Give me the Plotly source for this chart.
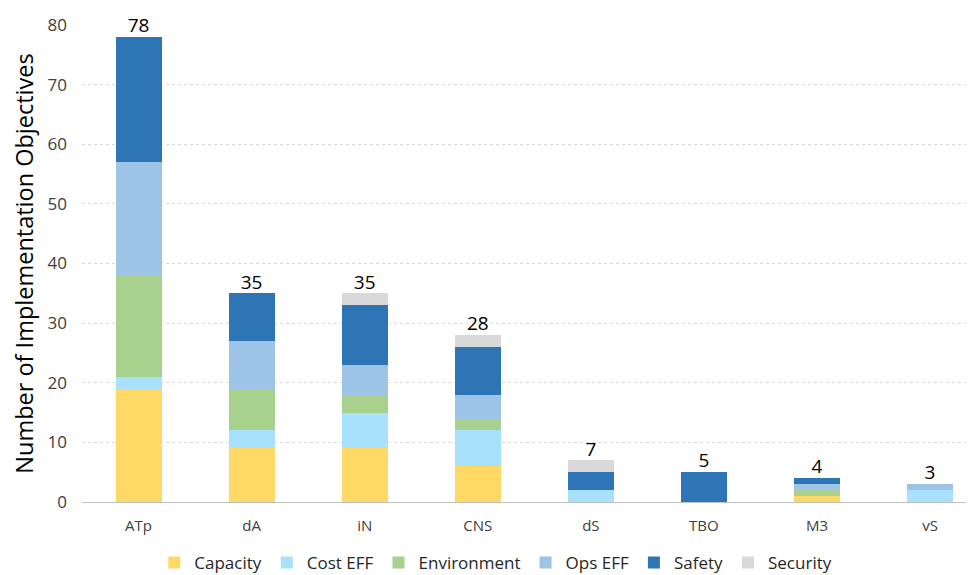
import plotly.graph_objects as go

categories = ['ATp', 'dA', 'iN', 'CNS', 'dS', 'TBO', 'M3', 'vS']

capacity = [19, 9, 9, 6, 0, 0, 1, 0]
cost_eff = [2, 3, 6, 6, 2, 0, 0, 2]
environment = [17, 7, 3, 2, 0, 0, 1, 0]
ops_eff = [19, 8, 5, 4, 0, 0, 1, 1]
safety = [21, 8, 10, 8, 3, 5, 1, 0]
security = [0, 0, 2, 2, 2, 0, 0, 0]

series_names = ['Capacity', 'Cost EFF', 'Environment', 'Ops EFF', 'Safety', 'Security']
series_values = [capacity, cost_eff, environment, ops_eff, safety, security]
colors = ['#FFD966', '#A8E1FC', '#A9D18E', '#9DC3E6', '#2E75B6', '#D9D9D9']

totals = [sum(v) for v in zip(*series_values)]

fig = go.Figure()
for name, vals, col in zip(series_names, series_values, colors):
    fig.add_trace(go.Bar(x=categories, y=vals, name=name, marker_color=col,
                         marker_line_width=0))

# totals on top of each bar
fig.add_trace(go.Scatter(x=categories, y=totals, mode='text', text=[str(t) for t in totals],
                         textposition='top center', showlegend=False, cliponaxis=False,
                         textfont=dict(size=19, color='#000000')))

fig.update_layout(
    barmode='stack',
    bargap=0.593,
    width=964, height=573,
    margin=dict(l=74, r=0, t=17, b=79),
    plot_bgcolor='white', paper_bgcolor='white',
    font=dict(family='Open Sans, Liberation Sans, sans-serif', color='#404040'),
    legend=dict(orientation='h', xref='container', yref='container',
                x=0.506, xanchor='center', y=0, yanchor='bottom',
                font=dict(size=17, color='#262626'), traceorder='normal'),
)
fig.update_yaxes(range=[0, 80], dtick=10, showgrid=True, gridcolor='#D9D9D9', griddash='dot',
                 zeroline=False, automargin=False, ticklabelstandoff=14,
                 tickfont=dict(size=17, color='#404040'),
                 title=dict(text='Number of Implementation Objectives',
                            font=dict(size=23.5, color='#000000'), standoff=8))
# plot area runs past the right edge in the original, so the last category is cut short
fig.update_xaxes(range=[-0.5, 7.371], showline=True, linecolor='#BFBFBF', linewidth=1,
                 automargin=False, ticklabelstandoff=10,
                 tickfont=dict(size=15, color='#404040'))

fig.write_html("out.html")
